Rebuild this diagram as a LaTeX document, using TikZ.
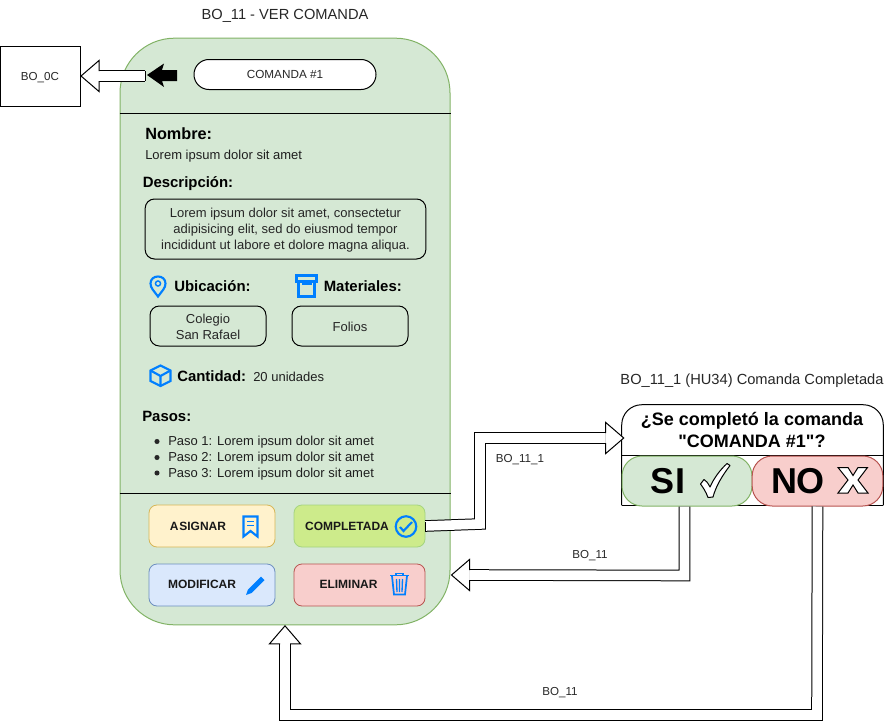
\documentclass[tikz,border=0pt]{standalone}
\usepackage{fontspec}
\setmainfont{Liberation Sans}[Ligatures=TeXOff]
\usetikzlibrary{calc}
\definecolor{panelF}{HTML}{D5E8D4}
\definecolor{panelS}{HTML}{82B366}
\definecolor{yelF}{HTML}{FFF2CC}
\definecolor{yelS}{HTML}{D6B656}
\definecolor{limeF}{HTML}{CDEB8B}
\definecolor{limeS}{HTML}{A5D47F}
\definecolor{bluF}{HTML}{DAE8FC}
\definecolor{bluS}{HTML}{6C8EBF}
\definecolor{redF}{HTML}{F8CECC}
\definecolor{redS}{HTML}{B85450}
\definecolor{iconC}{HTML}{007FFF}
\newcommand{\pxf}[2]{\fontsize{#1}{#2}\selectfont}
\tikzset{
  x=0.75pt,y=-0.75pt,
  txt/.style={inner sep=0pt,font=\pxf{9.75}{12},text=black!88},
  txtl/.style={txt,anchor=west},
  hd/.style={inner sep=0pt,anchor=west,font=\pxf{11.2}{13}\bfseries,text=black},
  field/.style={draw=black,rounded corners=7pt,line width=.75pt,align=center,inner sep=0pt,font=\pxf{9.75}{12},text=black!85,minimum width=87pt,minimum height=30pt},
  btn/.style={rounded corners=6pt,line width=.6pt,inner sep=0pt,minimum height=31.5pt},
  btnt/.style={inner sep=0pt,font=\pxf{9}{11}\bfseries,text=black!90},
  flex/.style={double=white,double distance=7.2pt,line width=.75pt,line join=miter},
  ico/.style={draw=iconC,line width=1.6pt,line join=miter},
  lab/.style={inner sep=0pt,font=\pxf{8.7}{10},text=black!85},
  fhead/.pic={
    \fill[white] (0,-15) -- (18,0) -- (0,15) -- cycle;
    \draw[line width=.75pt,line join=miter] (-0.5,-5.5) -- (0,-5.5) -- (0,-15.5) -- (18,0) -- (0,15.5) -- (0,5.5) -- (-0.5,5.5);
  }
}
\begin{document}
\begin{tikzpicture}
\useasboundingbox (0,0) rectangle (886,721);
% panel
\node[draw=panelS,fill=panelF,line width=.75pt,rounded corners=41pt,minimum width=247.5pt,minimum height=440pt,inner sep=0pt] (panel) at (285,331.5) {};
\node[inner sep=0pt,font=\pxf{11}{13},text=black!85] (title) at (285,16) {BO\_11 - VER COMANDA};
\draw[line width=.75pt] (panel.west |- 0,113.5) -- (panel.east |- 0,113.5);
\draw[line width=.75pt] (panel.west |- 0,493.5) -- (panel.east |- 0,493.5);
\node[draw=black,fill=white,rounded corners=11.2pt,minimum width=136.5pt,minimum height=22.5pt,inner sep=0pt,font=\pxf{8.8}{10},text=black!85,line width=.75pt] (pill) at (285,74.5) {COMANDA \#1};
% back box
\node[draw=black,fill=white,line width=.75pt,minimum width=60pt,minimum height=45pt,inner sep=0pt,font=\pxf{8.7}{10},text=black!85,text height=7pt,text depth=0pt] (back) at (40,76) {BO\_0C};
% text
\node[hd,font=\pxf{12.2}{14}\bfseries] (nombre) at (145,133.5) {Nombre:};
\node[txtl] (lorem) at (145,156.5) {Lorem ipsum dolor sit amet};
\node[hd] (desc) at (142.5,184) {Descripción:};
\node[field,minimum width=210.5pt,minimum height=45pt] (descbox) at (285.5,229) {\rule{0pt}{9.3pt}Lorem ipsum dolor sit amet, consectetur\\adipisicing elit, sed do eiusmod tempor\\incididunt ut labore et dolore magna aliqua.};
\node[hd] (ubi) at (174,286) {Ubicación:};
\node[hd] (mat) at (323.5,286) {Materiales:};
\node[field] (ubibox) at (208,326) {\rule{0pt}{8.6pt}Colegio\\San Rafael};
\node[field] (matbox) at (350,326) {\rule{0pt}{8.6pt}Folios};
\node[hd] (cant) at (177,376) {Cantidad:};
\node[txtl] (unid) at (253,377) {20 unidades};
\node[hd] (pasos) at (142,416.5) {Pasos:};
\node[txtl] (p1) at (168,442) {Paso 1: Lorem ipsum dolor sit amet};
\node[txtl] (p2) at (168,458) {Paso 2: Lorem ipsum dolor sit amet};
\node[txtl] (p3) at (168,474) {Paso 3: Lorem ipsum dolor sit amet};
\foreach \yy in {441.5,457.5,473} \fill[black!85] (157,\yy) circle (1.9pt);
% buttons
\node[btn,draw=yelS,fill=yelF,minimum width=94.5pt] (asig) at (212,526) {};
\node[btn,draw=limeS,fill=limeF,minimum width=98.25pt] (done) at (359.5,526) {};
\node[btn,draw=bluS,fill=bluF,minimum width=94.5pt] (modi) at (212,585) {};
\node[btn,draw=redS,fill=redF,minimum width=98.25pt] (elim) at (359.5,585) {};
\node[btnt] (asigt) at (198,526) {A\kern.6pt SIGNAR};
\node[btnt] (donet) at (347,526) {COMPLETADA};
\node[btnt] (modit) at (202,584.5) {MODIFICAR};
\node[btnt] (elimt) at (348.5,584.5) {ELIMINAR};
% icons
\draw[ico] (158,296.5) .. controls (154,291) and (150.5,288) .. (150.5,283.5) .. controls (150.5,279) and (154,276.5) .. (158,276.5) .. controls (162,276.5) and (165.5,279) .. (165.5,283.5) .. controls (165.5,288) and (162,291) .. (158,296.5) -- cycle;
\draw[ico,line width=1.1pt] (158,283.5) circle (1.9pt);
\draw[ico] (296.5,275.5) rectangle (316.5,281.5);
\draw[ico] (298.5,281.5) rectangle (314.5,296.5);
\draw[ico,line width=1pt] (303,282) rectangle (311,284);
\draw[ico] (160.5,365.5) -- (170.5,370.5) -- (170.5,381) -- (160.5,386) -- (150.5,381) -- (150.5,370.5) -- cycle;
\draw[ico] (150.5,370.5) -- (160.5,376) -- (170.5,370.5) (160.5,376) -- (160.5,386);
\draw[ico] (243.5,516.5) -- (257.5,516.5) -- (257.5,536.5) -- (250.5,531) -- (243.5,536.5) -- cycle;
\draw[ico,line width=1pt] (247,521.5) -- (254,521.5) (247,525.5) -- (254,525.5);
\draw[ico] (406,526.5) circle (7.7pt);
\draw[ico] (400,527) -- (403.5,531) -- (412,522);
\fill[iconC] (246,595) -- (248,589.5) -- (261,576.5) -- (264.5,580) -- (251.5,593) -- cycle;
\draw[ico,line width=1.3pt] (390,575.5) -- (409,575.5) (396,575) -- (396,573.5) -- (403,573.5) -- (403,575);
\draw[ico,line width=1.3pt] (392,576) -- (394,594.5) -- (405,594.5) -- (407,576);
\draw[ico,line width=1pt] (396.5,579) -- (397,592) (399.5,579) -- (399.5,592) (402.5,579) -- (402,592);
% black arrow
\fill[black] (147,75) -- (164,63.5) -- (162,70) -- (177,70) -- (177,81) -- (162,81) -- (164,87) -- cycle;
% dialog
\node[inner sep=0pt,font=\pxf{11}{13},text=black!85] (qtitle) at (752,381) {BO\_11\_1 (HU34) Comanda Completada};
\node[minimum width=195.75pt,minimum height=75pt,inner sep=0pt] (q) at (752.5,455) {};
\draw[fill=white,line width=.75pt,rounded corners=15pt] (q.south west) -- (q.north west) -- (q.north east) -- (q.south east);
\draw[line width=.75pt] (q.south west) -- (q.south east);
\draw[line width=.75pt] (q.west) -- (q.east);
\node[inner sep=0pt,align=center,font=\pxf{13.5}{16.5}\bfseries] (qt) at (752,429.5) {¿Se completó la comanda\\"COMANDA \#1"?};
\node[draw=panelS,fill=panelF,line width=.75pt,rounded corners=15pt,minimum width=97.5pt,minimum height=37.5pt,inner sep=0pt] (si) at (687,481) {};
\node[draw=redS,fill=redF,line width=.75pt,rounded corners=15pt,minimum width=98pt,minimum height=37.5pt,inner sep=0pt] (no) at (817.5,481) {};
\node[inner sep=0pt,font=\pxf{27}{30}\bfseries] (sit) at (668,481) {SI};
\node[inner sep=0pt,font=\pxf{27}{30}\bfseries] (not) at (798,481) {NO};
\draw[fill=white,line width=.75pt,line join=round] (700.5,484) -- (704,479.5) .. controls (706,480.5) and (708,483) .. (710,487) .. controls (714,478) and (720,470) .. (727,463.5) -- (730,465.5) .. controls (722,476) and (716,486) .. (713,497) -- (708,497.5) .. controls (706,492) and (703.5,488) .. (700.5,484) -- cycle;
\draw[fill=white,line width=.75pt,line join=miter] (838,467.5) -- (848,467.5) -- (853,475.5) -- (858,467.5) -- (867.5,467.5) -- (858,480) -- (868,493) -- (858,493) -- (853,485) -- (848,493) -- (838,493) -- (848,480) -- cycle;
% flex connectors
\coordinate (c1) at (480,524);
\coordinate (qin) at ($(q.west)+(-16,-17)$);
\coordinate (c2) at ($(si.south)+(-2.5,69)$);
\coordinate (pinsi) at ($(panel.east)+(19,243.5)$);
\coordinate (nosrc) at ($(no.south)+(0,0)$);
\coordinate (c3) at (817,715);
\coordinate (c4) at (285,715);
\coordinate (pin) at ($(panel.south)+(0,18.5)$);
\draw[flex] (done.east) -- (c1) -- (c1 |- qin) -- (qin);
\draw[line width=.75pt] (425,521.5) -- (425,531.5);
\pic at (qin) {fhead};
\draw[flex] ($(si.south)+(-2.5,0)$) -- (c2) -- (pinsi);
\pic[rotate=180] at (pinsi) {fhead};
\draw[flex] (nosrc) -- (c3) -- (c4) -- (pin);
\pic[rotate=90] at (pin) {fhead};
\coordinate (bk) at (99,76);
\draw[flex] (145,76) -- (bk);
\draw[line width=.75pt] (145,71) -- (145,81);
\pic[rotate=180] at (bk) {fhead};
% labels
\node[lab] (l1) at (520,460) {BO\_11\_1};
\node[lab] (l2) at (590,556) {BO\_11};
\node[lab] (l3) at (560,693) {BO\_11};
\end{tikzpicture}
\end{document}
